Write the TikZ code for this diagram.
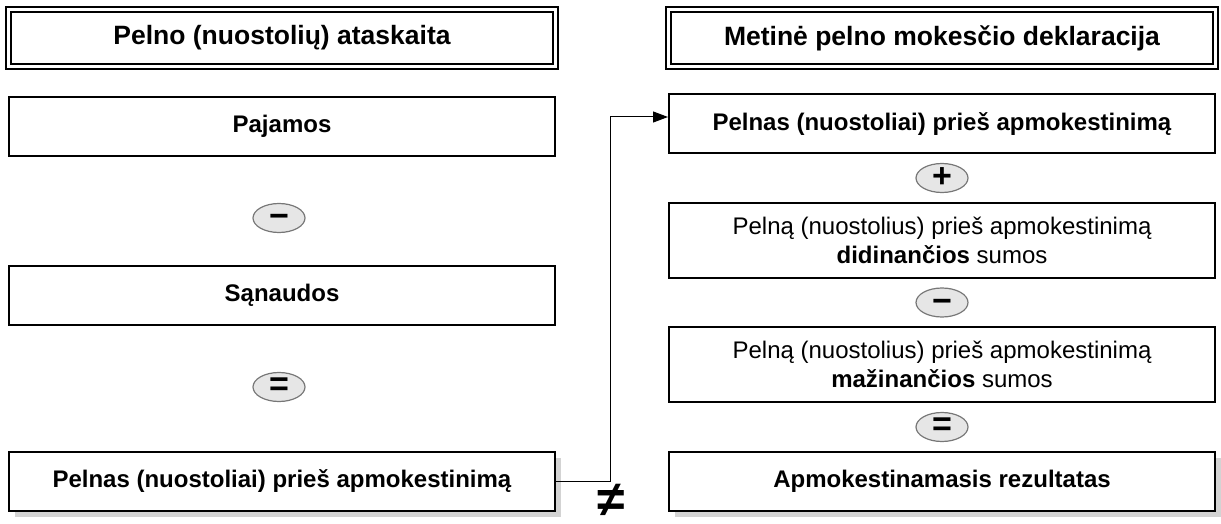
\documentclass[tikz,border=0pt]{standalone}
\usepackage{fontspec}
\setmainfont{Liberation Sans}
\usetikzlibrary{arrows.meta,shapes.geometric,shadows}
\definecolor{shadegray}{HTML}{D3D3D3}
\definecolor{opfill}{HTML}{E6E6E6}
\definecolor{opline}{HTML}{777777}

\begin{document}
\begin{tikzpicture}[x=0.5pt,y=-0.5pt,
  every node/.style={inner sep=0pt},
  head/.style={draw,line width=0.6pt,double,double distance=1.9pt,minimum width=273.5pt,minimum height=28.5pt,font=\bfseries\fontsize{13.25}{16}\selectfont},
  box/.style={draw,line width=1pt,fill=white,minimum width=273pt,minimum height=29.5pt,align=center,font=\fontsize{12}{14.5}\selectfont},
  tall/.style={box,minimum height=37.5pt},
  shade/.style={drop shadow={shadow xshift=3pt,shadow yshift=-3pt,fill=shadegray,opacity=1}},
  op/.style={ellipse,draw=opline,fill=opfill,line width=0.6pt,minimum width=26pt,minimum height=14.5pt,font=\bfseries\fontsize{17}{17}\selectfont}]
\useasboundingbox (0,0) rectangle (1221,524);
% left column
\node[head] (t1) at (282,38) {Pelno (nuostolių) ataskaita};
\node[box] (l1) at (282,126.5) {\textbf{Pajamos}};
\node[op] (o1) at (279,218) {\raisebox{-5pt}[0pt][0pt]{−}};
\node[box] (l2) at (282,295.5) {\textbf{Sąnaudos}};
\node[op] (o2) at (279,387) {=};
\node[box,shade] (l3) at (282,481) {\textbf{Pelnas (nuostoliai) prieš apmokestinimą}};
% right column
\node[head] (t2) at (942,38) {Metinė pelno mokesčio deklaracija};
\node[box] (r1) at (942,124) {\textbf{Pelnas (nuostoliai) prieš apmokestinimą}};
\node[op] (o3) at (942,178) {+};
\node[tall] (r2) at (942,240.5) {Pelną (nuostolius) prieš apmokestinimą\\\textbf{didinančios} sumos};
\node[op] (o4) at (942,302.5) {\raisebox{-5pt}[0pt][0pt]{−}};
\node[tall] (r3) at (942,364) {Pelną (nuostolius) prieš apmokestinimą\\\textbf{mažinančios} sumos};
\node[op] (o5) at (942,427) {=};
\node[box,shade] (r4) at (942,481) {\textbf{Apmokestinamasis rezultatas}};
% link
\draw[line width=0.5pt,-{Triangle[length=7.5pt,width=5.5pt]}] (l3.east) -- ++(54,0) |- ([yshift=3.5pt]r1.west);
\node[font=\bfseries\fontsize{25}{25}\selectfont] (ne) at (611,500) {≠};
\end{tikzpicture}
\end{document}
